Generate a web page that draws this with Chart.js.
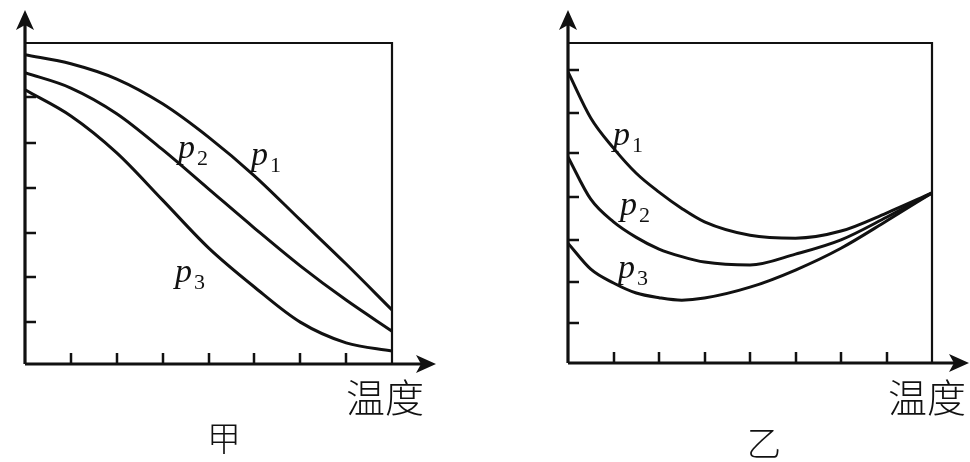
<!DOCTYPE html>
<html>
<head>
<meta charset="utf-8">
<script src="https://cdn.jsdelivr.net/npm/chart.js@4.4.1/dist/chart.umd.min.js"></script>
<style>
  body { margin: 0; background: #fff; width: 970px; height: 462px; position: relative; overflow: hidden; }
  canvas { position: absolute; top: 0; }
  #jia { left: 0; }
  #yi { left: 485px; }
  .lbl { position: absolute; font-family: "Liberation Serif", "DejaVu Serif", serif; font-size: 34px; line-height: 34px; color: #111; white-space: nowrap; }
  .lbl i { font-style: italic; }
  .lbl span { font-size: 22px; position: relative; top: 7px; margin-left: 2px; }
  .cn { position: absolute; font-family: "Noto Sans CJK SC", sans-serif; font-weight: 300; color: #111; line-height: 1; white-space: nowrap; }
</style>
</head>
<body>
<canvas id="jia" width="470" height="462"></canvas>
<canvas id="yi" width="485" height="462"></canvas>

<div class="lbl" style="left:251px;top:137px"><i>p</i><span>1</span></div>
<div class="lbl" style="left:178px;top:130px"><i>p</i><span>2</span></div>
<div class="lbl" style="left:175px;top:254px"><i>p</i><span>3</span></div>
<div class="lbl" style="left:613px;top:117px"><i>p</i><span>1</span></div>
<div class="lbl" style="left:620px;top:187px"><i>p</i><span>2</span></div>
<div class="lbl" style="left:618px;top:250px"><i>p</i><span>3</span></div>

<div class="cn" style="left:346px;top:376px;font-size:39px">温度</div>
<div class="cn" style="left:207px;top:420px;font-size:34px">甲</div>
<div class="cn" style="left:888px;top:376px;font-size:39px">温度</div>
<div class="cn" style="left:747px;top:425px;font-size:34px">乙</div>

<script>
// left panel (甲)
const jiaX = [0, 1, 2, 3, 4, 5, 6, 7, 8];
const jiaP1 = [6.87, 6.67, 6.33, 5.78, 5.04, 4.18, 3.20, 2.22, 1.20];
const jiaP2 = [6.47, 6.13, 5.56, 4.76, 3.89, 3.02, 2.18, 1.42, 0.73];
const jiaP3 = [6.09, 5.51, 4.69, 3.64, 2.58, 1.71, 0.93, 0.47, 0.29];
const jiaYTicks = [0.93, 1.93, 2.91, 3.91, 4.91, 5.93];

// right panel (乙)
const yiX = [0, 0.5, 1, 1.5, 2, 2.5, 3, 4, 5, 6, 7, 8];
const yiP1 = [6.95, 5.85, 5.13, 4.53, 4.08, 3.69, 3.37, 3.05, 2.98, 3.15, 3.58, 4.06];
const yiP2 = [4.92, 3.91, 3.37, 3.00, 2.72, 2.54, 2.41, 2.34, 2.60, 2.94, 3.48, 4.06];
const yiP3 = [2.86, 2.24, 1.91, 1.67, 1.56, 1.50, 1.55, 1.81, 2.22, 2.74, 3.39, 4.06];
const yiYTicks = [0.95, 1.93, 2.94, 3.96, 5.01, 5.97, 6.99];

const xTicks = [1, 2, 3, 4, 5, 6, 7];

function pts(xs, ys) {
  return xs.map((x, i) => ({ x, y: ys[i] }));
}

// frame, arrows and inward tick marks, placed via the chart's scales
const framePlugin = {
  id: 'frame',
  afterDraw(chart, args, opts) {
    const ctx = chart.ctx;
    const xs = chart.scales.x, ys = chart.scales.y;
    const x0 = xs.getPixelForValue(0), x1 = xs.getPixelForValue(8);
    const y0 = ys.getPixelForValue(0), yTop = ys.getPixelForValue(ys.max);
    ctx.save();
    ctx.strokeStyle = '#111';
    ctx.fillStyle = '#111';
    // box top + right
    ctx.lineWidth = 2.2;
    ctx.beginPath();
    ctx.moveTo(x0, yTop); ctx.lineTo(x1, yTop); ctx.lineTo(x1, y0);
    ctx.stroke();
    // axes
    ctx.lineWidth = 3.2;
    ctx.beginPath();
    ctx.moveTo(x0, y0); ctx.lineTo(x0, opts.yTip + 12);
    ctx.moveTo(x0, y0); ctx.lineTo(opts.xTip - 12, y0);
    ctx.stroke();
    // arrow heads
    ctx.beginPath();
    ctx.moveTo(x0, opts.yTip); ctx.lineTo(x0 - 9, opts.yTip + 20); ctx.lineTo(x0, opts.yTip + 15); ctx.lineTo(x0 + 9, opts.yTip + 20);
    ctx.closePath(); ctx.fill();
    ctx.beginPath();
    ctx.moveTo(opts.xTip, y0); ctx.lineTo(opts.xTip - 20, y0 - 9); ctx.lineTo(opts.xTip - 15, y0); ctx.lineTo(opts.xTip - 20, y0 + 9);
    ctx.closePath(); ctx.fill();
    // ticks
    ctx.lineWidth = 2.5;
    ctx.beginPath();
    xTicks.forEach(v => {
      const px = Math.round(xs.getPixelForValue(v));
      ctx.moveTo(px, y0); ctx.lineTo(px, y0 - 11);
    });
    opts.yTicks.forEach(v => {
      const py = Math.round(ys.getPixelForValue(v));
      ctx.moveTo(x0, py); ctx.lineTo(x0 + 11, py);
    });
    ctx.stroke();
    ctx.restore();
  }
};

function makeChart(id, xs, series, yMax, pad, frame) {
  const ctx = document.getElementById(id).getContext('2d');
  return new Chart(ctx, {
    type: 'line',
    data: {
      datasets: series.map(s => ({
        data: pts(xs, s),
        borderColor: '#111',
        borderWidth: 3,
        pointRadius: 0,
        cubicInterpolationMode: 'monotone',
        fill: false
      }))
    },
    options: {
      responsive: false,
      animation: false,
      devicePixelRatio: 1,
      layout: { padding: pad },
      plugins: { legend: { display: false }, tooltip: { enabled: false }, frame },
      scales: {
        x: { type: 'linear', min: 0, max: 8, display: false },
        y: { type: 'linear', min: 0, max: yMax, display: false }
      }
    },
    plugins: [framePlugin]
  });
}

makeChart('jia', jiaX, [jiaP1, jiaP2, jiaP3], 7.13,
  { left: 25, top: 43, right: 78, bottom: 98 },
  { yTicks: jiaYTicks, yTip: 10, xTip: 436 });

makeChart('yi', yiX, [yiP1, yiP2, yiP3], 7.64,
  { left: 83, top: 43, right: 38, bottom: 99 },
  { yTicks: yiYTicks, yTip: 10, xTip: 484 });
</script>
</body>
</html>
